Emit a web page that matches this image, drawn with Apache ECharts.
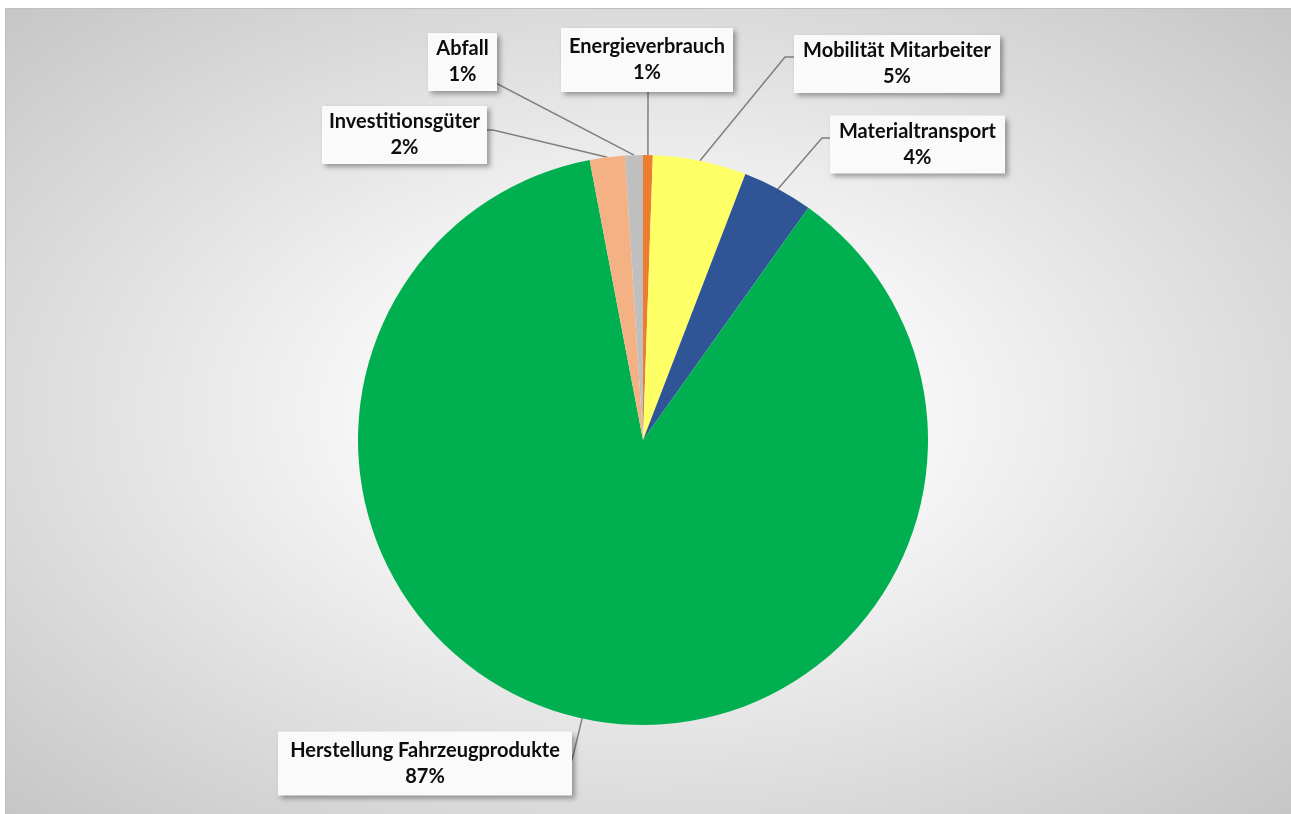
<!DOCTYPE html>
<html>
<head>
<meta charset="utf-8">
<script src="https://cdn.jsdelivr.net/npm/echarts@6/dist/echarts.min.js"></script>
<style>
  html, body { margin: 0; padding: 0; background: #ffffff; }
  #bg { position: absolute; left: 5px; top: 8px; width: 1286px; height: 806px;
        background: radial-gradient(ellipse at 50% 50%, #ffffff 0%, #ffffff 18%, #c6c6c6 100%);
        border-top: 1px solid #c0c0c0; border-left: 1px solid #c0c0c0; box-sizing: border-box; }
  #chart { position: absolute; left: 0; top: 0; width: 1291px; height: 814px; }
</style>
</head>
<body>
<div id="bg"></div>
<div id="chart"></div>
<script>
// Data (clockwise from 12 o'clock)
const categories = ['Energieverbrauch', 'Mobilität Mitarbeiter', 'Materialtransport', 'Herstellung Fahrzeugprodukte', 'Investitionsgüter', 'Abfall'];
const values = [0.55, 5.3, 4.0, 87.15, 2.0, 1.0];
const colors = ['#ED7D31', '#FFFF66', '#2F5597', '#00B050', '#F4B183', '#BFBFBF'];

// Label box layout (page pixels): centre, box width, vertical padding, leader line elbow + end
const labelBoxes = [
  { cx: 647,   cy: 60,    w: 172, pv: 6, elbow: [648, 89],  end: [648, 89] },
  { cx: 897,   cy: 64,    w: 206, pv: 3, elbow: [785, 57],  end: [797, 57] },
  { cx: 917.5, cy: 144.5, w: 175, pv: 3, elbow: [822, 138], end: [833, 138] },
  { cx: 425,   cy: 763.5, w: 294, pv: 6, elbow: [572, 760], end: [560, 760] },
  { cx: 404.5, cy: 135,   w: 165, pv: 3, elbow: [493, 130], end: [485, 130] },
  { cx: 462.5, cy: 62,    w: 69,  pv: 3, elbow: [492, 81],  end: [480, 81] }
];

const chart = echarts.init(document.getElementById('chart'), null, { renderer: 'canvas' });

const data = categories.map((name, i) => ({
  name: name,
  value: values[i],
  itemStyle: { color: colors[i] },
  label: { width: labelBoxes[i].w, padding: [labelBoxes[i].pv, 0, labelBoxes[i].pv, 0] }
}));

const cx = 643, cy = 440, R = 285;

chart.setOption({
  backgroundColor: 'transparent',
  animation: false,
  series: [{
    type: 'pie',
    center: [cx, cy],
    radius: [0, R],
    startAngle: 90,
    clockwise: true,
    avoidLabelOverlap: false,
    itemStyle: { borderWidth: 0 },
    label: {
      show: true,
      position: 'outside',
      formatter: p => p.name + '\n' + Math.round(p.percent) + '%',
      fontFamily: 'Lato',
      fontWeight: 'bold',
      fontSize: 20,
      lineHeight: 26,
      color: '#0d0d0d',
      align: 'center',
      backgroundColor: '#fafafa',
      shadowColor: 'rgba(0,0,0,0.35)',
      shadowBlur: 5,
      shadowOffsetX: 3,
      shadowOffsetY: 3
    },
    labelLine: {
      show: true,
      length: 10,
      length2: 10,
      smooth: false,
      lineStyle: { color: '#7f7f7f', width: 1.5 }
    },
    labelLayout: function (params) {
      const b = labelBoxes[params.dataIndex];
      let p0;
      if (params.labelLinePoints && params.labelLinePoints[0]) {
        p0 = params.labelLinePoints[0];
      } else {
        let cum = 0, tot = values.reduce((a, v) => a + v, 0);
        for (let k = 0; k < params.dataIndex; k++) cum += values[k];
        const a = ((cum + values[params.dataIndex] / 2) / tot) * Math.PI * 2;
        p0 = [cx + R * Math.sin(a), cy - R * Math.cos(a)];
      }
      return {
        x: b.cx,
        y: b.cy,
        align: 'center',
        verticalAlign: 'middle',
        labelLinePoints: [p0, b.elbow, b.end]
      };
    },
    data: data
  }]
});
</script>
</body>
</html>
